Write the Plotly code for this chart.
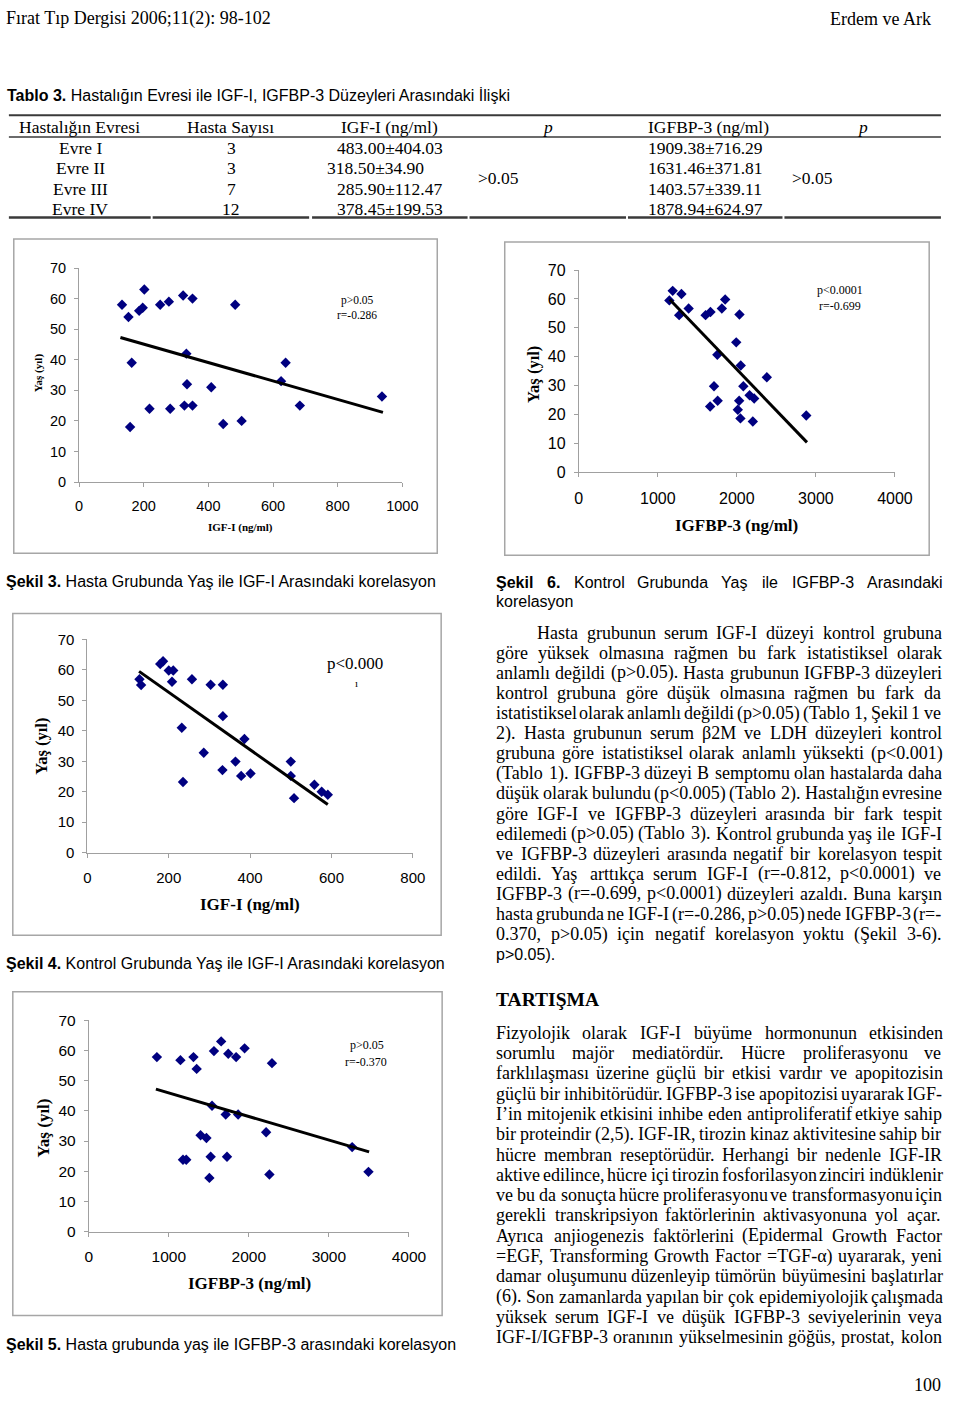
import plotly.graph_objects as go

# The figure is drawn on a canvas slightly larger than the 960x1402 window; all
# page content is laid out in window pixel coordinates inside its top-left part.
FW, FH = 1000, 1450
SERIF = "Liberation Serif"
SANS = "Liberation Sans"


def X(px):
    return px / FW


def Y(py):
    return 1 - py / FH

# ---------------- DATA ----------------
# Tablo 3
evre = ["Evre I", "Evre II", "Evre III", "Evre IV"]
hasta_sayisi = ["3", "3", "7", "12"]
igf_evre = ["483.00±404.03", "318.50±34.90", "285.90±112.47", "378.45±199.53"]
igfbp_evre = ["1909.38±716.29", "1631.46±371.81", "1403.57±339.11", "1878.94±624.97"]
p_igf_evre = ">0.05"
p_igfbp_evre = ">0.05"

# Şekil 3: Hasta grubunda yaş - IGF-I
s3_igf = [133, 153, 186, 197, 202, 163, 158, 218, 251, 278, 322, 351, 332, 334, 326,
          351, 282, 409, 446, 503, 483, 625, 639, 683, 937]
s3_yas = [58, 54, 56, 57, 63, 39, 18, 24, 58, 59, 61, 60, 42, 32, 25,
          25, 24, 31, 19, 20, 58, 33, 39, 25, 28]
s3_trend_x = [128, 940]
s3_trend_y = [47.3, 22.8]
s3_text = ["p>0.05", "r=-0.286"]

# Şekil 6: Kontrol grubunda yaş - IGFBP-3
s6_igfbp = [1146, 1188, 1299, 1270, 1390, 1604, 1666, 1810, 1852, 2033, 1992, 1753, 2049,
            2379, 1711, 2082, 2161, 2219, 1757, 1662, 2029, 2012, 2045, 2202, 2878]
s6_yas = [59.5, 62.8, 61.7, 54.4, 56.7, 54.4, 55.5, 56.7, 59.8, 54.6, 45.0, 40.7, 37.0,
          32.9, 29.8, 29.8, 26.7, 25.6, 24.8, 22.8, 24.8, 21.7, 18.7, 17.6, 19.7]
s6_trend_x = [1151, 2887]
s6_trend_y = [59.8, 10.4]
s6_text = ["p<0.0001", "r=-0.699"]

# Şekil 4: Kontrol grubunda yaş - IGF-I
s4_igf = [128, 132, 179, 186, 200, 211, 208, 257, 303, 333, 333, 232, 286, 235, 332,
          364, 378, 401, 386, 500, 500, 508, 558, 576, 591]
s4_yas = [56.9, 55.0, 61.9, 62.8, 59.8, 59.8, 56.1, 56.9, 55.1, 55.1, 44.8, 41.0, 32.8,
          23.2, 27.1, 29.9, 25.2, 26.0, 37.3, 29.9, 25.2, 17.9, 22.3, 20.0, 19.0]
s4_trend_x = [127, 591]
s4_trend_y = [59.5, 15.8]
s4_text = ["p<0.000", "ı"]

# Şekil 5: Hasta grubunda yaş - IGFBP-3
s5_igfbp = [851, 1145, 1308, 1348, 1564, 1654, 1743, 1841, 1947, 2289, 1540, 1711,
            1866, 2216, 1397, 1470, 1177, 1218, 1523, 1727, 1507, 2257, 3291, 3495]
s5_yas = [57.8, 56.8, 57.8, 53.9, 59.8, 63.0, 58.9, 57.8, 60.7, 55.8, 41.7, 38.8,
          38.8, 32.9, 31.9, 31.0, 23.8, 23.8, 24.8, 24.8, 17.8, 18.9, 28.0, 19.8]
s5_trend_x = [839, 3503]
s5_trend_y = [47.2, 26.4]
s5_text = ["p>0.05", "r=-0.370"]

y_ticks = [0, 10, 20, 30, 40, 50, 60, 70]

header_left = "Fırat Tıp Dergisi 2006;11(2): 98-102"
header_right = "Erdem ve Ark"
table_title_bold = "Tablo 3."
table_title = " Hastalığın Evresi ile IGF-I, IGFBP-3 Düzeyleri Arasındaki İlişki"
table_header = ["Hastalığın Evresi", "Hasta Sayısı", "IGF-I (ng/ml)", "p", "IGFBP-3 (ng/ml)", "p"]

cap3 = ("Şekil 3.", " Hasta Grubunda Yaş ile IGF-I Arasındaki korelasyon")
cap6_line1 = "Şekil 6. Kontrol Grubunda Yaş ile IGFBP-3 Arasındaki"
cap6_line2 = "korelasyon"
cap4 = ("Şekil 4.", " Kontrol Grubunda Yaş ile IGF-I Arasındaki korelasyon")
cap5 = ("Şekil 5.", " Hasta grubunda yaş ile IGFBP-3 arasındaki korelasyon")

para1 = [
    "Hasta grubunun serum IGF-I düzeyi kontrol grubuna",
    "göre yüksek olmasına rağmen bu fark istatistiksel olarak",
    "anlamlı değildi (p>0.05). Hasta grubunun IGFBP-3 düzeyleri",
    "kontrol grubuna göre düşük olmasına rağmen bu fark da",
    "istatistiksel olarak anlamlı değildi (p>0.05) (Tablo 1, Şekil 1 ve",
    "2). Hasta grubunun serum β2M ve LDH düzeyleri kontrol",
    "grubuna göre istatistiksel olarak anlamlı yüksekti (p<0.001)",
    "(Tablo 1). IGFBP-3 düzeyi B semptomu olan hastalarda daha",
    "düşük olarak bulundu (p<0.005) (Tablo 2). Hastalığın evresine",
    "göre IGF-I ve IGFBP-3 düzeyleri arasında bir fark tespit",
    "edilemedi (p>0.05) (Tablo 3). Kontrol grubunda yaş ile IGF-I",
    "ve IGFBP-3 düzeyleri arasında negatif bir korelasyon tespit",
    "edildi. Yaş arttıkça serum IGF-I (r=-0.812, p<0.0001) ve",
    "IGFBP-3 (r=-0.699, p<0.0001) düzeyleri azaldı. Buna karşın",
    "hasta grubunda ne IGF-I (r=-0.286, p>0.05) nede IGFBP-3 (r=-",
    "0.370, p>0.05) için negatif korelasyon yoktu (Şekil 3-6).",
]
para1_tail = "p>0.05)."
heading2 = "TARTIŞMA"
para2 = [
    "Fizyolojik olarak IGF-I büyüme hormonunun etkisinden",
    "sorumlu majör mediatördür. Hücre proliferasyonu ve",
    "farklılaşması üzerine güçlü bir etkisi vardır ve apopitozisin",
    "güçlü bir inhibitörüdür. IGFBP-3 ise apopitozisi uyararak IGF-",
    "I’in mitojenik etkisini inhibe eden antiproliferatif etkiye sahip",
    "bir proteindir (2,5). IGF-IR, tirozin kinaz aktivitesine sahip bir",
    "hücre membran reseptörüdür. Herhangi bir nedenle IGF-IR",
    "aktive edilince, hücre içi tirozin fosforilasyon zinciri indüklenir",
    "ve bu da sonuçta hücre proliferasyonu ve transformasyonu için",
    "gerekli transkripsiyon faktörlerinin aktivasyonuna yol açar.",
    "Ayrıca anjiogenezis faktörlerini (Epidermal Growth Factor",
    "=EGF, Transforming Growth Factor =TGF-α) uyararak, yeni",
    "damar oluşumunu düzenleyip tümörün büyümesini başlatırlar",
    "(6). Son zamanlarda yapılan bir çok epidemiyolojik çalışmada",
    "yüksek serum IGF-I ve düşük IGFBP-3 seviyelerinin veya",
    "IGF-I/IGFBP-3 oranının yükselmesinin göğüs, prostat, kolon",
]
page_no = "100"

# ---------------- font metrics (per 1000 em) ----------------
TIMES = {' ': 250, '(': 333, ')': 333, ',': 250, '-': 333, '.': 250, '/': 278, ':': 278,
         ';': 278, '<': 564, '=': 564, '>': 564, '’': 333, "'": 180, '±': 564, 'β': 500, 'α': 520}
for c in '0123456789':
    TIMES[c] = 500
TIMES.update(dict(zip('ABCDEFGHIJKLMNOPQRSTUVWXYZ',
                      [722, 667, 667, 722, 611, 556, 722, 722, 333, 389, 722, 611, 889, 722, 722,
                       556, 722, 667, 556, 611, 722, 722, 944, 722, 722, 611])))
TIMES.update(dict(zip('abcdefghijklmnopqrstuvwxyz',
                      [444, 500, 444, 500, 444, 333, 500, 500, 278, 278, 500, 278, 778, 500, 500,
                       500, 500, 333, 389, 278, 500, 500, 722, 500, 500, 444])))
TIMES.update({'ı': 278, 'ş': 389, 'ğ': 500, 'ü': 500, 'ö': 500, 'ç': 444, 'İ': 333,
              'Ş': 556, 'Ç': 667, 'Ü': 722, 'Ö': 722})

ARIAL = {' ': 278, '(': 333, ')': 333, ',': 278, '-': 333, '.': 278, '/': 278, ':': 278,
         '<': 584, '=': 584, '>': 584}
for c in '0123456789':
    ARIAL[c] = 556
ARIAL.update(dict(zip('ABCDEFGHIJKLMNOPQRSTUVWXYZ',
                      [667, 667, 722, 722, 667, 611, 778, 722, 278, 500, 667, 556, 833, 722, 778,
                       667, 778, 722, 667, 611, 722, 667, 944, 667, 667, 611])))
ARIAL.update(dict(zip('abcdefghijklmnopqrstuvwxyz',
                      [556, 556, 500, 556, 556, 278, 556, 556, 222, 222, 500, 222, 833, 556, 556,
                       556, 556, 333, 500, 278, 556, 500, 722, 500, 500, 500])))
ARIAL.update({'ı': 278, 'ş': 500, 'ğ': 556, 'ü': 556, 'ö': 556, 'ç': 500, 'Ş': 667, 'İ': 278})
ARIAL_B = dict(ARIAL)
ARIAL_B.update({'e': 556, 'k': 556, 'i': 278, 'l': 278})


def width(s, table, size):
    return sum(table.get(c, 500) for c in s) / 1000.0 * size


def esc(s):
    return s.replace('&', '&amp;').replace('<', '&lt;').replace('>', '&gt;')


ann = []


def txt(px, py, s, size, family=SERIF, xanchor='left', angle=0, color='black'):
    ann.append(dict(x=X(px), y=Y(py), xref='paper', yref='paper', text=s, showarrow=False,
                    xanchor=xanchor, yanchor='middle', borderpad=0, borderwidth=0,
                    textangle=angle, font=dict(family=family, size=size, color=color)))


def justified(line, left, right, py, size, family, table, nbold=0, btable=None, justify=True):
    words = line.split(' ')
    ws = []
    for i, w in enumerate(words):
        t = btable if (i < nbold and btable) else table
        ws.append(width(w, t, size))
    total = sum(ws)
    if justify and len(words) > 1:
        gap = (right - left - total) / (len(words) - 1)
    else:
        gap = table[' '] / 1000.0 * size
    x = left
    for i, w in enumerate(words):
        s = esc(w)
        if i < nbold:
            s = '<b>' + s + '</b>'
        txt(x, py, s, size, family)
        x += ws[i] + gap

# ---------------- header & table ----------------
txt(2, 10, esc(header_left), 18)
txt(948, 10, esc(header_right), 18, xanchor='right')
txt(3, 87, '<b>' + esc(table_title_bold) + '</b>' + esc(table_title), 16, SANS)

head_x = [15, 232, 394, 556, 720, 878]
head_anchor = ['left', 'center', 'center', 'center', 'center', 'center']
for i, h in enumerate(table_header):
    s = '<i>' + h + '</i>' if h == 'p' else esc(h)
    txt(head_x[i], 119, s, 17.5, xanchor=head_anchor[i])

row_y = [141, 161.5, 182, 202.5]
igf_left = [341, 330, 341, 341]
for i in range(4):
    txt(78, row_y[i], esc(evre[i]), 17.5, xanchor='center')
    txt(232.5, row_y[i], esc(hasta_sayisi[i]), 17.5, xanchor='center')
    txt(igf_left[i], row_y[i], esc(igf_evre[i]), 17.5)
    txt(658, row_y[i], esc(igfbp_evre[i]), 17.5)
txt(485, 171, esc(p_igf_evre), 17.5)
txt(806, 171, esc(p_igfbp_evre), 17.5)

shapes = []


def hline(x0, x1, py, w, color='#3a3a3a'):
    shapes.append(dict(type='line', xref='paper', yref='paper', x0=X(x0), x1=X(x1),
                       y0=Y(py), y1=Y(py), line=dict(color=color, width=w)))


hline(5, 958, 107.5, 2)
hline(5, 958, 129.5, 1.5)
for a, b in [(5, 150), (152, 312), (315, 474), (476, 636), (638, 796), (798, 958)]:
    hline(a, b, 211, 2.5)

# ---------------- charts ----------------
FRAME = '#a6a6a6'
AX = '#a0a0a0'
charts = [
    dict(x=s3_igf, y=s3_yas, tx=s3_trend_x, ty=s3_trend_y, frame=(10, 233, 443, 551),
         xd=(76.7, 407.3), yd=(479, 262.3), xmax=1000, dt=200, fs=14.5),
    dict(x=s6_igfbp, y=s6_yas, tx=s6_trend_x, ty=s6_trend_y, frame=(512, 236, 946, 553),
         xd=(587.7, 911), yd=(469.3, 264.3), xmax=4000, dt=1000, fs=16),
    dict(x=s4_igf, y=s4_yas, tx=s4_trend_x, ty=s4_trend_y, frame=(9, 612, 447, 938),
         xd=(85.3, 418), yd=(854.3, 638.3), xmax=800, dt=200, fs=15),
    dict(x=s5_igfbp, y=s5_yas, tx=s5_trend_x, ty=s5_trend_y, frame=(9, 995, 448, 1323),
         xd=(86.7, 414), yd=(1238, 1024), xmax=4000, dt=1000, fs=15.5),
]

fig = go.Figure()
layout_axes = {}
for i, c in enumerate(charts):
    n = '' if i == 0 else str(i + 1)
    fig.add_trace(go.Scatter(x=c['x'], y=c['y'], mode='markers', xaxis='x' + n, yaxis='y' + n,
                             marker=dict(symbol='diamond', size=8, color='#000080',
                                         line=dict(width=0)), hoverinfo='skip'))
    fig.add_trace(go.Scatter(x=c['tx'], y=c['ty'], mode='lines', xaxis='x' + n, yaxis='y' + n,
                             line=dict(color='black', width=3), hoverinfo='skip'))
    common = dict(showline=True, linecolor=AX, linewidth=1, ticks='outside', ticklen=4,
                  tickcolor=AX, tickwidth=1, showgrid=False, zeroline=False, fixedrange=True,
                  tickfont=dict(family=SANS, size=c['fs'], color='black'))
    layout_axes['xaxis' + n] = dict(domain=[X(c['xd'][0]), X(c['xd'][1])], range=[0, c['xmax']],
                                    tick0=0, dtick=c['dt'], anchor='y' + n,
                                    ticklabelstandoff=7, **common)
    layout_axes['yaxis' + n] = dict(domain=[Y(c['yd'][0]), Y(c['yd'][1])], range=[0, 70],
                                    tickvals=y_ticks, anchor='x' + n,
                                    ticklabelstandoff=5, **common)
    fx0, fy0, fx1, fy1 = c['frame']
    shapes.append(dict(type='rect', xref='paper', yref='paper', x0=X(fx0), x1=X(fx1),
                       y0=Y(fy1), y1=Y(fy0), line=dict(color=FRAME, width=1.5)))

# axis titles
txt(35.5, 368, '<b>Yaş (yıl)</b>', 11, xanchor='center', angle=-90)
txt(242, 525, '<b>IGF-I (ng/ml)</b>', 11, xanchor='center')
txt(541.5, 370, '<b>Yaş (yıl)</b>', 16.5, xanchor='center', angle=-90)
txt(749, 523, '<b>IGFBP-3 (ng/ml)</b>', 17, xanchor='center')
txt(39, 747, '<b>Yaş (yıl)</b>', 16.5, xanchor='center', angle=-90)
txt(252, 907, '<b>IGF-I (ng/ml)</b>', 17, xanchor='center')
txt(40.5, 1133, '<b>Yaş (yıl)</b>', 17, xanchor='center', angle=-90)
txt(251, 1291, '<b>IGFBP-3 (ng/ml)</b>', 17, xanchor='center')

# in-chart statistics
txt(361, 295, esc(s3_text[0]), 11.5, xanchor='center')
txt(361, 310, esc(s3_text[1]), 11.5, xanchor='center')
txt(855, 285, esc(s6_text[0]), 12, xanchor='center')
txt(855, 301, esc(s6_text[1]), 12, xanchor='center')
txt(359, 663, esc(s4_text[0]), 17, xanchor='center')
txt(360, 682, esc(s4_text[1]), 11, xanchor='center')
txt(371, 1049, esc(s5_text[0]), 12, xanchor='center')
txt(370, 1066, esc(s5_text[1]), 12, xanchor='center')

# captions
txt(2, 580, '<b>' + esc(cap3[0]) + '</b>' + esc(cap3[1]), 16, SANS)
justified(cap6_line1, 503, 958, 581, 16, SANS, ARIAL, nbold=2, btable=ARIAL_B)
txt(503, 600, esc(cap6_line2), 16, SANS)
txt(2, 966, '<b>' + esc(cap4[0]) + '</b>' + esc(cap4[1]), 16, SANS)
txt(2, 1352, '<b>' + esc(cap5[0]) + '</b>' + esc(cap5[1]), 16, SANS)

# body text
FS = 18
for i, line in enumerate(para1):
    left = 545 if i == 0 else 503
    justified(line, left, 958, 631.5 + 20.35 * i, FS, SERIF, TIMES)
txt(503, 631.5 + 20.35 * 16, esc(para1_tail), 16, SANS)
txt(503, 1003, '<b>' + esc(heading2) + '</b>', 19.5)
for i, line in enumerate(para2):
    justified(line, 503, 958, 1036.7 + 20.55 * i, FS, SERIF, TIMES)
txt(958, 1393, page_no, 18, xanchor='right')

fig.update_layout(width=FW, height=FH, autosize=False, margin=dict(l=0, r=0, t=0, b=0),
                  paper_bgcolor='white', plot_bgcolor='white', showlegend=False,
                  annotations=ann, shapes=shapes, **layout_axes)

fig.write_html("out.html")
